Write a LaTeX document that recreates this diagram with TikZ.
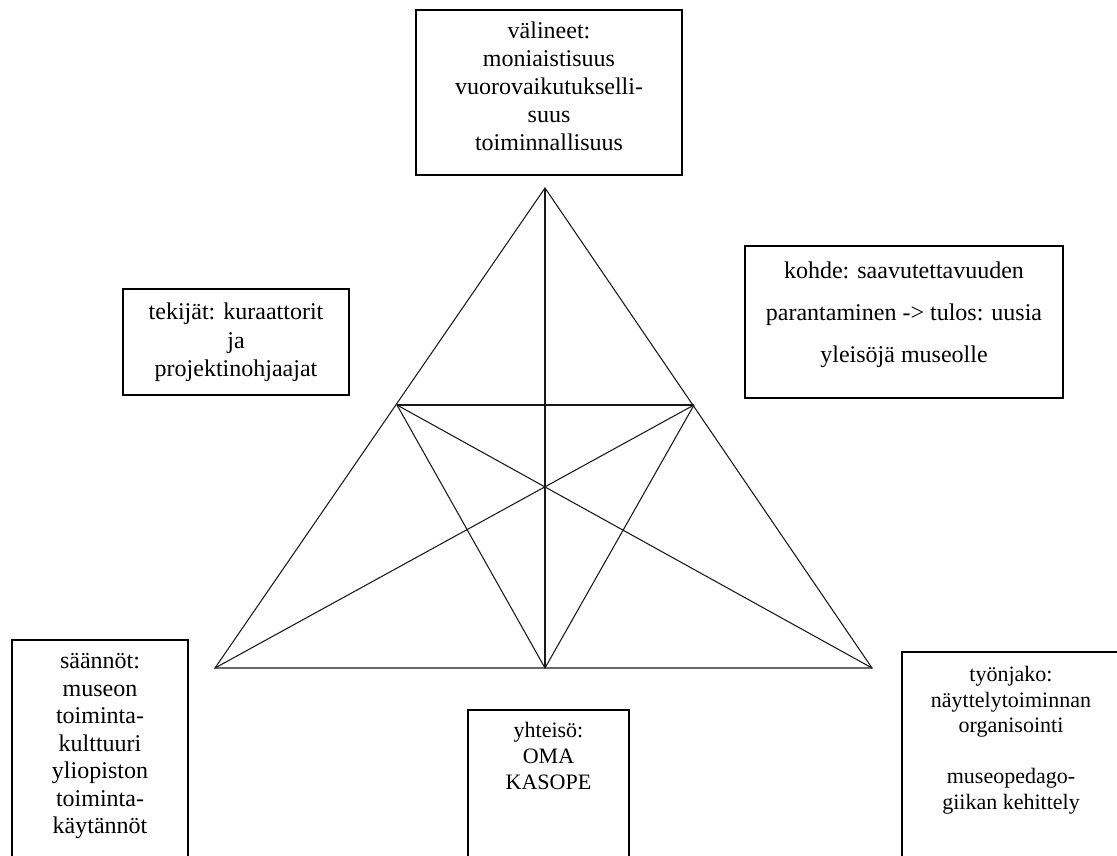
\documentclass[tikz,border=0pt]{standalone}
\usepackage{fontspec}
\setmainfont{Liberation Serif}
\usetikzlibrary{positioning, fit}

\begin{document}
\begin{tikzpicture}[x=0.75pt, y=-0.75pt,
  frame/.style={draw, line width=0.9pt, inner sep=0pt},
  txt/.style={align=center, inner sep=0pt, font=\fontsize{18pt}{21pt}\selectfont},
  small/.style={font=\fontsize{16.5pt}{19.5pt}\selectfont},
  edge/.style={line width=0.8pt, black!90}]

\useasboundingbox (0,0) rectangle (1117,856);
\clip (0,0) rectangle (1117,856);

% corners of the triangle
\coordinate (apex) at (545,188);
\coordinate (bl) at (215,668);
\coordinate (br) at (872,668);
\coordinate (bm) at (545,668);
\coordinate (ml) at (397,405);
\coordinate (mr) at (694,405);

\draw[edge] (apex) -- (bl) -- (br) -- cycle;
\draw[edge] (apex) -- (bm);
\draw[edge] (ml) -- (mr);
\draw[edge] (ml) -- (bm) -- (mr);
\draw[edge] (bl) -- (mr);
\draw[edge] (ml) -- (br);

% frames
\node[frame, fit={(416,10) (682,175)}] (valineet) {};
\node[frame, fit={(123,289) (349,395)}] (tekijat) {};
\node[frame, fit={(745,246) (1063,398)}] (kohde) {};
\node[frame, fit={(12,640) (188,880)}] (saannot) {};
\node[frame, fit={(468,710) (629,880)}] (yhteiso) {};
\node[frame, fit={(902,652) (1120,880)}] (tyonjako) {};

% texts
\node[txt, below=9pt of valineet.north] (valineet-txt) {välineet:\\moniaistisuus\\vuorovaikutukselli-\\suus\\toiminnallisuus};
\node[txt, font=\fontsize{18pt}{21.6pt}\selectfont, below=10.5pt of tekijat.north] (tekijat-txt) {tekijät: kuraattorit\\ja\\projektinohjaajat};
\node[txt, font=\fontsize{18pt}{31.5pt}\selectfont, below=12pt of kohde.north] (kohde-txt) {kohde: saavutettavuuden\\parantaminen -> tulos: uusia\\yleisöjä museolle};
\node[txt, font=\fontsize{18pt}{20.6pt}\selectfont, below=10.5pt of saannot.north] (saannot-txt) {säännöt:\\museon\\toiminta-\\kulttuuri\\yliopiston\\toiminta-\\käytännöt};
\node[txt, small, below=9.75pt of yhteiso.north] (yhteiso-txt) {yhteisö:\\OMA\\KASOPE};
\node[txt, font=\fontsize{16.5pt}{19.1pt}\selectfont, below=11.25pt of tyonjako.north] (tyonjako-txt) {työnjako:\\näyttelytoiminnan\\organisointi\\[19.1pt]museopedago-\\giikan kehittely};
\end{tikzpicture}
\end{document}
